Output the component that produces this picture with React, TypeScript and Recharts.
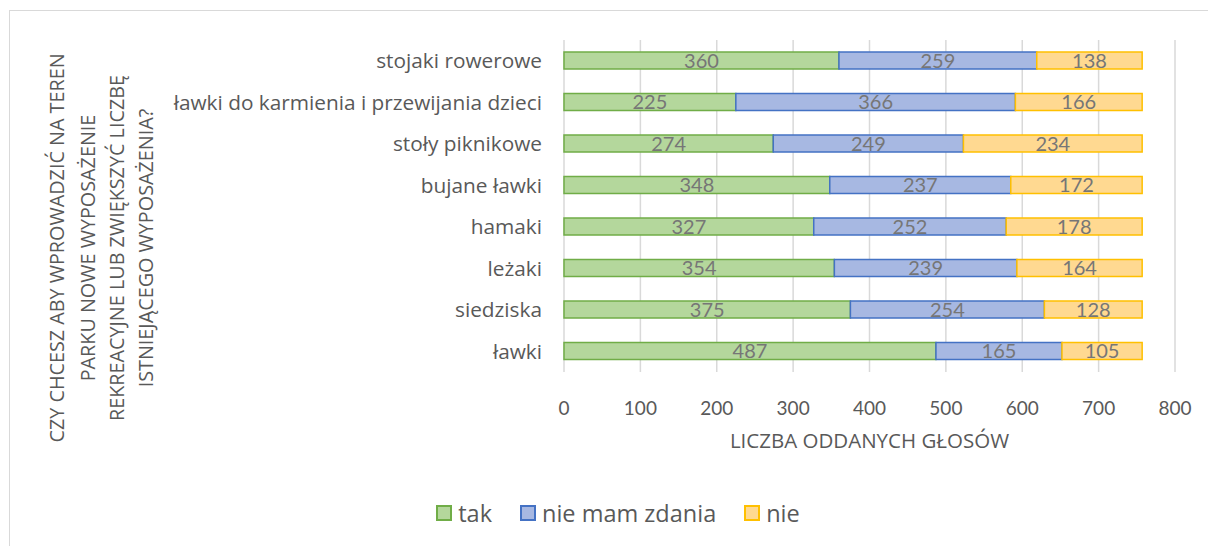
import { Bar, BarChart, CartesianGrid, LabelList, Legend, XAxis, YAxis } from "recharts";

const categories = [
  "stojaki rowerowe",
  "ławki do karmienia i przewijania dzieci",
  "stoły piknikowe",
  "bujane ławki",
  "hamaki",
  "leżaki",
  "siedziska",
  "ławki",
];
const tak = [360, 225, 274, 348, 327, 354, 375, 487];
const nieMamZdania = [259, 366, 249, 237, 252, 239, 254, 165];
const nie = [138, 166, 234, 172, 178, 164, 128, 105];
const xTicks = [0, 100, 200, 300, 400, 500, 600, 700, 800];
const yTitleLines = [
  "CZY CHCESZ ABY WPROWADZIĆ NA TEREN",
  "PARKU NOWE WYPOSAŻENIE",
  "REKREACYJNE LUB ZWIĘKSZYĆ LICZBĘ",
  "ISTNIEJĄCEGO WYPOSAŻENIA?",
];
const xTitle = "LICZBA ODDANYCH GŁOSÓW";

const data = categories.map((name, i) => ({
  name,
  tak: tak[i],
  nieMamZdania: nieMamZdania[i],
  nie: nie[i],
}));

const series = [
  { key: "tak", label: "tak", fill: "#b4d79c", stroke: "#70ad47" },
  { key: "nieMamZdania", label: "nie mam zdania", fill: "#a7b8e2", stroke: "#4472c4" },
  { key: "nie", label: "nie", fill: "#ffd991", stroke: "#ffc000" },
];

const LATO = "Lato, sans-serif";
const OPEN = "'Open Sans', sans-serif";
const TEXT = "#595959";

function YTitle() {
  const xs = [56, 87, 116, 145];
  const cy = 248;
  return (
    <g>
      {yTitleLines.map((line, i) => (
        <text
          key={i}
          x={xs[i]}
          y={cy}
          transform={`rotate(-90, ${xs[i]}, ${cy})`}
          textAnchor="middle"
          dominantBaseline="central"
          fontSize={19.8}
          fill={TEXT}
          fontFamily={OPEN}
        >
          {line}
        </text>
      ))}
    </g>
  );
}

function LegendContent() {
  return (
    <div style={{ display: "flex", justifyContent: "center", gap: 28, paddingLeft: 28, fontFamily: OPEN }}>
      {series.map((s) => (
        <div key={s.key} style={{ display: "flex", alignItems: "center", gap: 6 }}>
          <span
            style={{
              display: "inline-block",
              width: 12,
              height: 12,
              background: s.fill,
              border: `2px solid ${s.stroke}`,
            }}
          />
          <span style={{ fontSize: 23.5, color: TEXT, lineHeight: "26px" }}>{s.label}</span>
        </div>
      ))}
    </div>
  );
}

export default function App() {
  return (
    <div style={{ position: "absolute", left: 0, top: 0, width: 1208, height: 546, background: "#fff" }}>
      <div
        style={{
          position: "absolute",
          left: 9,
          top: 10,
          width: 1199,
          height: 536,
          borderTop: "1.5px solid #d9d9d9",
          borderLeft: "1.5px solid #d9d9d9",
        }}
      />
      <div style={{ position: "absolute", left: 0, top: 0 }}>
        <BarChart
          width={1208}
          height={546}
          data={data}
          layout="vertical"
          margin={{ top: 40, right: 33, bottom: 68, left: 170 }}
          barSize={17}
        >
          <CartesianGrid horizontal={false} stroke="#d9d9d9" strokeWidth={1.5} />
          <XAxis
            type="number"
            domain={[0, 800]}
            ticks={xTicks}
            axisLine={false}
            tickLine={false}
            tickMargin={24}
            height={80}
            tick={{ fontSize: 19, fill: TEXT, fontFamily: LATO }}
            label={{
              value: xTitle,
              position: "insideBottom",
              offset: 4,
              fontSize: 20.5,
              fill: TEXT,
              fontFamily: OPEN,
            }}
          />
          <YAxis
            type="category"
            dataKey="name"
            width={394}
            axisLine={false}
            tickLine={false}
            tickSize={0}
            tickMargin={22}
            interval={0}
            tick={{ fontSize: 20.8, fill: TEXT, fontFamily: OPEN }}
            label={{ content: () => <YTitle /> }}
          />
          <Legend
            verticalAlign="bottom"
            content={() => <LegendContent />}
            wrapperStyle={{ bottom: 20, left: 0, width: 1208 }}
          />
          {series.map((s) => (
            <Bar
              key={s.key}
              dataKey={s.key}
              name={s.label}
              stackId="a"
              fill={s.fill}
              stroke={s.stroke}
              strokeWidth={1.5}
              isAnimationActive={false}
            >
              <LabelList
                dataKey={s.key}
                position="center"
                fontSize={20}
                fill="#767676"
                fontFamily={LATO}
              />
            </Bar>
          ))}
        </BarChart>
      </div>
    </div>
  );
}
